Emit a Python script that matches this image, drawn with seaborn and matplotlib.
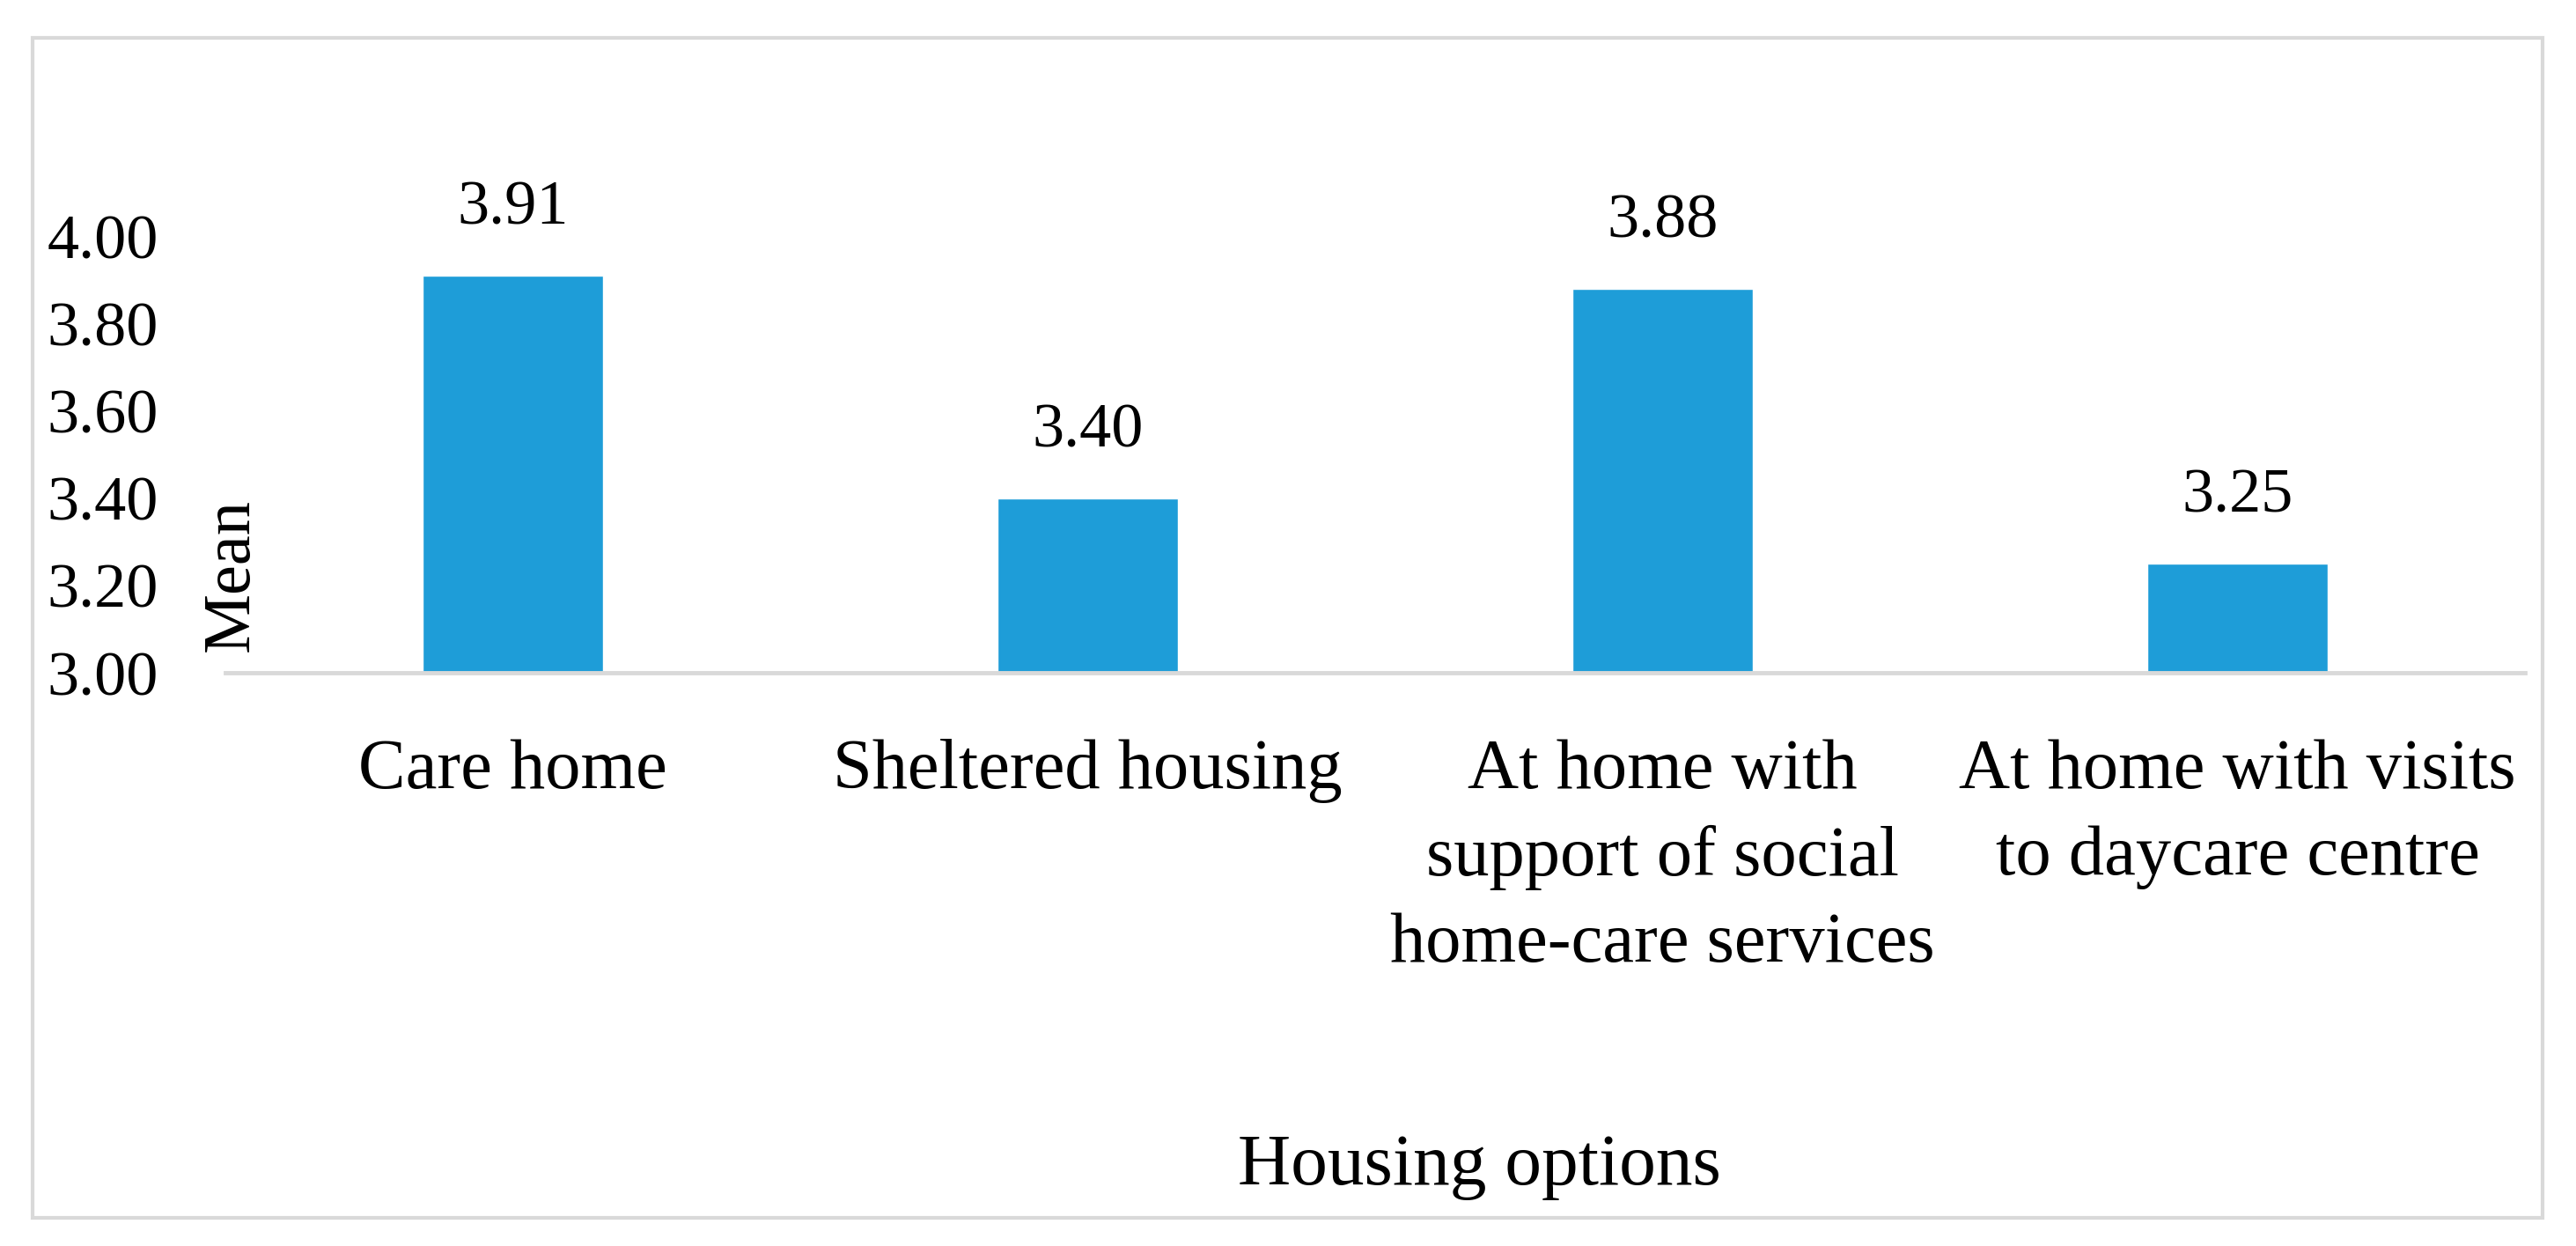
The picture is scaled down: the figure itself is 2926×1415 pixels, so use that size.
import matplotlib
matplotlib.use("Agg")
import matplotlib.pyplot as plt
from matplotlib.patches import Rectangle
import seaborn as sns
import pandas as pd

categories = ["Care home", "Sheltered housing",
              "At home with support of social home-care services",
              "At home with visits to daycare centre"]
tick_labels = ["Care home", "Sheltered housing",
               "At home with\nsupport of social\nhome-care services",
               "At home with visits\nto daycare centre"]
means = [3.91, 3.40, 3.88, 3.25]
y_ticks = [3.00, 3.20, 3.40, 3.60, 3.80, 4.00]

sns.set_theme(style="white")
plt.rcParams["font.family"] = ["Liberation Serif", "DejaVu Serif"]
plt.rcParams["text.color"] = "black"
plt.rcParams["xtick.color"] = "black"
plt.rcParams["ytick.color"] = "black"

W, H = 2926, 1415
fig = plt.figure(figsize=(W / 100, H / 100), dpi=100)
ax = fig.add_axes([256 / W, 1 - 764 / H, (2868 - 256) / W, (764 - 268) / H])

df = pd.DataFrame({"option": categories, "mean": means})
sns.barplot(data=df, x="option", y="mean", color="#1E9DD8", saturation=1,
            width=0.314, ax=ax, order=categories)

ax.set_ylim(3.0, 4.0)
ax.set_xlim(-0.5, 3.5)
ax.set_yticks(y_ticks)
ax.set_yticklabels([f"{v:.2f}" for v in y_ticks], fontsize=52, color="black")
ax.set_xticks(range(len(categories)))
ax.set_xticklabels(tick_labels, fontsize=58, linespacing=1.44, color="black")
ax.tick_params(axis="y", length=0, pad=55)
ax.tick_params(axis="x", length=0, pad=54)
ax.set_xlabel("")
ax.set_ylabel("")

for s in ["top", "right", "left"]:
    ax.spines[s].set_visible(False)
ax.spines["bottom"].set_color("#D9D9D9")
ax.spines["bottom"].set_linewidth(3.5)

for i, v in enumerate(means):
    ax.annotate(f"{v:.2f}", xy=(i, v), xytext=(0, 42), textcoords="offset points",
                ha="center", va="baseline", fontsize=52, color="black",
                annotation_clip=False)

fig.text(263 / W, 1 - 653 / H, "Mean", rotation=90, ha="center", va="center",
         fontsize=55, color="black")
fig.text(1680 / W, 1 - 1325 / H, "Housing options", ha="center", va="center",
         fontsize=60, color="black")

fig.patches.append(Rectangle((37 / W, 1 - 1383 / H), (2888 - 37) / W, (1383 - 43) / H,
                             transform=fig.transFigure, fill=False,
                             edgecolor="#D9D9D9", linewidth=3))

fig.savefig("out.png", dpi=100, facecolor="white")
